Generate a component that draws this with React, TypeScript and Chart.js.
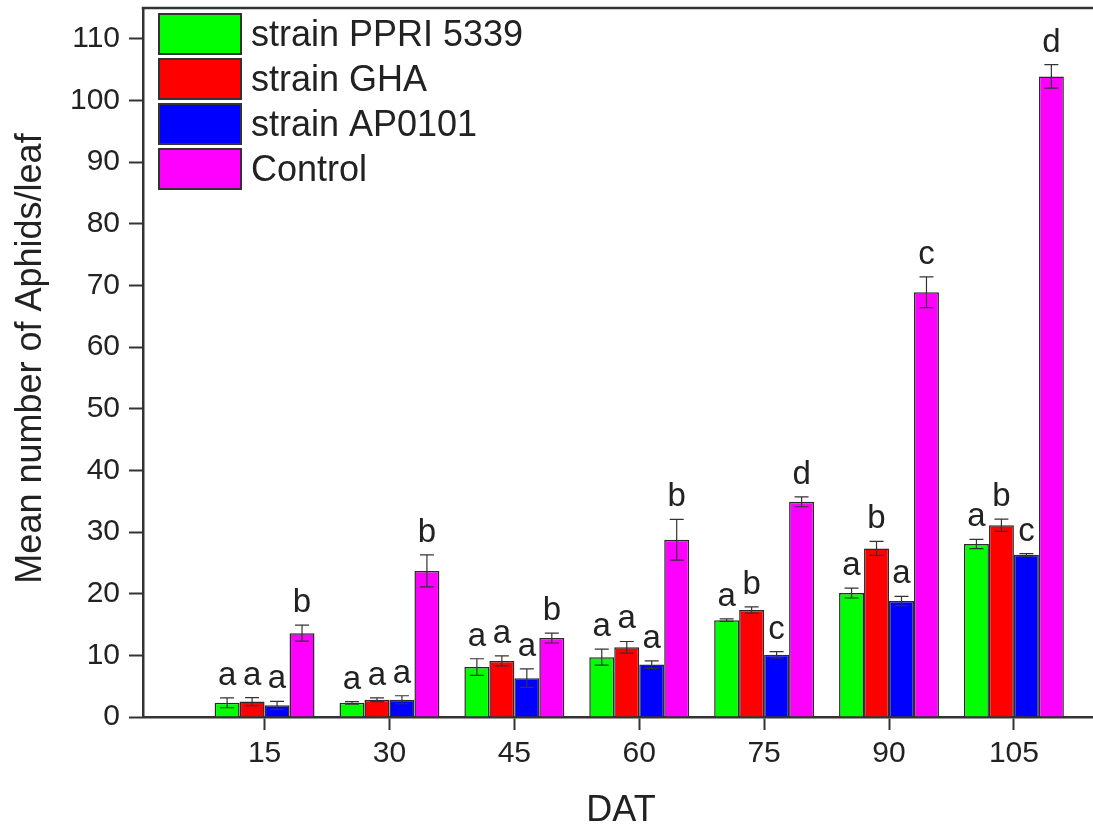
import React, { useEffect, useRef } from "react";
import { Chart, registerables } from "chart.js";

Chart.register(...registerables);

// ---- data ----
const X_VALUES = [15, 30, 45, 60, 75, 90, 105];
const Y_TICKS = [0, 10, 20, 30, 40, 50, 60, 70, 80, 90, 100, 110];
const SERIES_NAMES = ["strain PPRI 5339", "strain GHA", "strain AP0101", "Control"];
const PPRI_VALUES = [2.3, 2.3, 8.1, 9.7, 15.7, 20.1, 28.05];
const GHA_VALUES = [2.5, 2.8, 9.1, 11.3, 17.35, 27.35, 31.1];
const AP0101_VALUES = [1.9, 2.8, 6.3, 8.5, 10.1, 18.8, 26.3];
const CONTROL_VALUES = [13.6, 23.7, 12.8, 28.75, 34.9, 68.9, 103.9];
const PPRI_ERR = [0.8, 0.2, 1.35, 1.3, 0.2, 0.8, 0.75];
const GHA_ERR = [0.65, 0.3, 0.8, 0.95, 0.5, 1.15, 1.0];
const AP0101_ERR = [0.65, 0.65, 1.5, 0.6, 0.5, 0.75, 0.2];
const CONTROL_ERR = [1.3, 2.6, 0.8, 3.3, 0.8, 2.5, 1.9];
const PPRI_LETTERS = ["a", "a", "a", "a", "a", "a", "a"];
const GHA_LETTERS = ["a", "a", "a", "a", "b", "b", "b"];
const AP0101_LETTERS = ["a", "a", "a", "a", "c", "a", "c"];
const CONTROL_LETTERS = ["b", "b", "b", "b", "d", "c", "d"];
const COLORS = ["#00ff00", "#ff0000", "#0000ff", "#ff00ff"];

const X_TITLE = "DAT";
const Y_TITLE = "Mean number of Aphids/leaf";

const VALUES = [PPRI_VALUES, GHA_VALUES, AP0101_VALUES, CONTROL_VALUES];
const ERRORS = [PPRI_ERR, GHA_ERR, AP0101_ERR, CONTROL_ERR];
const LETTERS = [PPRI_LETTERS, GHA_LETTERS, AP0101_LETTERS, CONTROL_LETTERS];

const FONT = "'Liberation Sans', Arial, Helvetica, sans-serif";
const AXIS = "#333333";
const TEXT = "#222222";

const decorPlugin = {
  id: "decor",
  afterDatasetsDraw(chart: any) {
    const ctx = chart.ctx;
    const ys = chart.scales.y;
    ctx.save();
    // error bars
    ctx.strokeStyle = "#333";
    ctx.lineWidth = 1.2;
    VALUES.forEach((vals, i) => {
      const meta = chart.getDatasetMeta(i);
      vals.forEach((v, j) => {
        const bar = meta.data[j];
        const e = ERRORS[i][j];
        const top = ys.getPixelForValue(v + e);
        const bot = ys.getPixelForValue(v - e);
        const x = bar.x;
        ctx.beginPath();
        ctx.moveTo(x, top);
        ctx.lineTo(x, bot);
        ctx.moveTo(x - 7, top);
        ctx.lineTo(x + 7, top);
        ctx.moveTo(x - 7, bot);
        ctx.lineTo(x + 7, bot);
        ctx.stroke();
      });
    });
    // significance letters
    ctx.fillStyle = TEXT;
    ctx.font = `33px ${FONT}`;
    ctx.textAlign = "center";
    ctx.textBaseline = "alphabetic";
    VALUES.forEach((vals, i) => {
      const meta = chart.getDatasetMeta(i);
      vals.forEach((v, j) => {
        const bar = meta.data[j];
        const top = ys.getPixelForValue(v + ERRORS[i][j]);
        ctx.fillText(LETTERS[i][j], bar.x, top - 13);
      });
    });
    ctx.restore();
  },
  afterDraw(chart: any) {
    const ctx = chart.ctx;
    const area = chart.chartArea;
    ctx.save();
    // keep the right edge open (no right frame)
    ctx.fillStyle = "#ffffff";
    ctx.fillRect(area.right - 4, area.top + 2, 8, area.bottom - area.top - 4);
    // top frame line
    ctx.strokeStyle = AXIS;
    ctx.lineWidth = 2.5;
    ctx.beginPath();
    ctx.moveTo(area.left - 1.25, area.top);
    ctx.lineTo(chart.width, area.top);
    ctx.stroke();
    // legend
    const bx = 159, bw = 82, bh = 40, by0 = 14, pitch = 45;
    const fs = 36;
    ctx.font = `${fs}px ${FONT}`;
    ctx.textAlign = "left";
    ctx.textBaseline = "alphabetic";
    SERIES_NAMES.forEach((name, i) => {
      const by = by0 + i * pitch;
      ctx.fillStyle = COLORS[i];
      ctx.fillRect(bx, by, bw, bh);
      ctx.lineWidth = 2;
      ctx.strokeStyle = "#333";
      ctx.strokeRect(bx, by, bw, bh);
      ctx.fillStyle = TEXT;
      ctx.fillText(name, 251, by + bh / 2 + 0.33 * fs);
    });
    // axis titles
    ctx.fillStyle = TEXT;
    ctx.font = `36px ${FONT}`;
    ctx.textAlign = "center";
    ctx.textBaseline = "alphabetic";
    ctx.fillText(X_TITLE, 621, 821);
    ctx.translate(41, 358.5);
    ctx.rotate(-Math.PI / 2);
    ctx.fillText(Y_TITLE, 0, 0);
    ctx.restore();
  },
};

export default function App() {
  const ref = useRef<HTMLCanvasElement | null>(null);
  useEffect(() => {
    if (!ref.current) return;
    Chart.defaults.font.family = FONT;
    const chart = new Chart(ref.current, {
      type: "bar",
      data: {
        datasets: VALUES.map((vals, i) => ({
          label: SERIES_NAMES[i],
          data: vals.map((v, j) => ({ x: X_VALUES[j], y: v })),
          backgroundColor: COLORS[i],
          borderColor: "#2b2b2b",
          borderWidth: 1.5,
          categoryPercentage: 0.8,
          barPercentage: 1.0,
        })),
      },
      options: {
        animation: false,
        responsive: false,
        maintainAspectRatio: false,
        layout: { padding: { top: 8, left: 0, right: 0, bottom: 0 } },
        plugins: { legend: { display: false }, tooltip: { enabled: false } },
        scales: {
          x: {
            type: "linear",
            offset: false,
            min: 0.4,
            max: 114.5,
            position: "bottom",
            grid: {
              offset: false,
              drawOnChartArea: false,
              drawTicks: true,
              tickLength: 13,
              tickColor: AXIS,
              tickWidth: 2,
            },
            border: { display: true, color: AXIS, width: 2.5 },
            ticks: {
              font: { size: 30, family: FONT },
              color: TEXT,
              padding: 6,
              maxRotation: 0,
              autoSkip: false,
            },
            afterBuildTicks: (s: any) => {
              s.ticks = X_VALUES.map((v) => ({ value: v }));
            },
            afterFit: (s: any) => {
              s.height = 110;
              s.paddingLeft = 0;
              s.paddingRight = 0;
            },
          },
          y: {
            type: "linear",
            min: 0,
            max: 115,
            grid: {
              drawOnChartArea: false,
              drawTicks: true,
              tickLength: 14,
              tickColor: AXIS,
              tickWidth: 2,
            },
            border: { display: true, color: AXIS, width: 2.5 },
            ticks: {
              font: { size: 30, family: FONT },
              color: TEXT,
              padding: 9,
              autoSkip: false,
            },
            afterBuildTicks: (s: any) => {
              s.ticks = Y_TICKS.map((v) => ({ value: v }));
            },
            afterFit: (s: any) => {
              s.width = 143;
              s.paddingTop = 0;
              s.paddingBottom = 0;
            },
          },
        },
      },
      plugins: [decorPlugin],
    } as any);
    return () => chart.destroy();
  }, []);
  return (
    <div style={{ position: "absolute", left: 0, top: 0, width: 1093, height: 827, background: "#fff" }}>
      <canvas ref={ref} width={1093} height={827} style={{ display: "block" }} />
    </div>
  );
}
